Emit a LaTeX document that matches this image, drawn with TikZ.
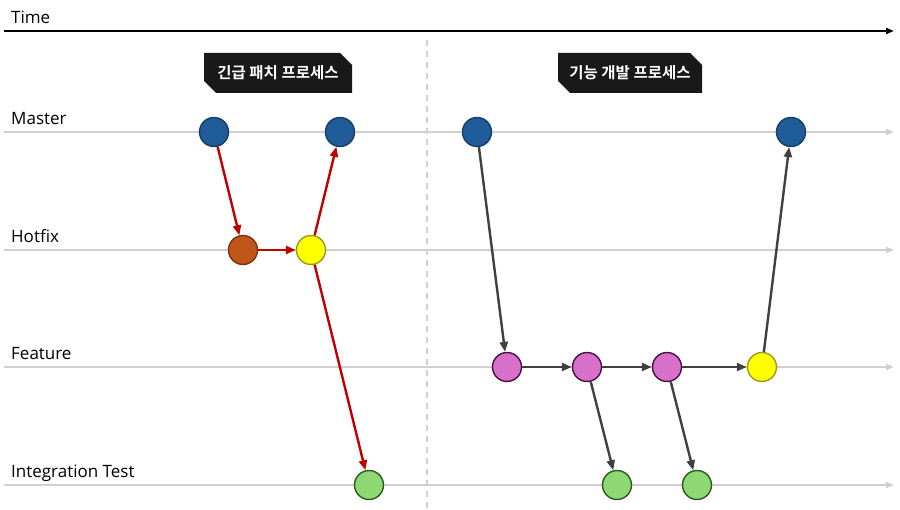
\documentclass[tikz,border=0pt]{standalone}
\usepackage{fontspec}
\setmainfont{Open Sans}
\newfontfamily\krfont{Noto Sans CJK KR Bold}
\usetikzlibrary{arrows.meta,shapes.misc}
\definecolor{laneg}{HTML}{D0D0D0}
\definecolor{redc}{HTML}{C00000}
\definecolor{grayc}{HTML}{404040}
\definecolor{blueF}{HTML}{1F5C99}
\definecolor{blueD}{HTML}{173F66}
\definecolor{orgF}{HTML}{C0561A}
\definecolor{orgD}{HTML}{7A3510}
\definecolor{yelF}{HTML}{FFFF00}
\definecolor{yelD}{HTML}{9A9A20}
\definecolor{magF}{HTML}{D86FC8}
\definecolor{magD}{HTML}{4A1040}
\definecolor{grnF}{HTML}{8DD873}
\definecolor{grnD}{HTML}{2A5A1F}
\tikzset{
  commit/.style={circle, minimum size=29pt, inner sep=0pt, line width=1.4pt},
  cblue/.style={commit, fill=blueF, draw=blueD},
  corg/.style={commit, fill=orgF, draw=orgD},
  cyel/.style={commit, fill=yelF, draw=yelD},
  cmag/.style={commit, fill=magF, draw=magD},
  cgrn/.style={commit, fill=grnF, draw=grnD},
  lane/.style={draw=laneg, line width=2pt, -{Triangle[length=8pt,width=6pt]}},
  lanelabel/.style={anchor=base west, inner sep=0pt, font=\fontsize{17}{20}\selectfont},
  redarr/.style={draw=redc, line width=2.4pt, -{Triangle[length=10pt,width=8pt]}},
  grayarr/.style={draw=grayc, line width=2.4pt, -{Triangle[length=10pt,width=8pt]}},
  header/.style={chamfered rectangle, chamfered rectangle corners={north east, south west},
    chamfered rectangle xsep=6pt, chamfered rectangle ysep=6pt, fill=black!90, text=white,
    minimum height=40pt, inner sep=0pt, font=\krfont\fontsize{15.5}{18}\selectfont}
}
\begin{document}
\begin{tikzpicture}[x=1pt,y=-1pt]
\useasboundingbox (0,0) rectangle (900,510);
% time axis
\node[lanelabel] (tlab) at (11,24) {Time};
\coordinate (t0) at (4,31);
\coordinate (t1) at (894,31);
\draw[line width=2pt, -{Triangle[length=8pt,width=6pt]}] (t0) -- (t1);
% separator
\coordinate (s0) at (427,40);
\coordinate (s1) at (427,509);
\draw[draw=laneg, line width=1.5pt, dash pattern=on 6pt off 5pt] (s0) -- (s1);
% lanes
\foreach \n/\y/\t in {m/132/Master, h/250/Hotfix, f/367/Feature, i/485/Integration Test}{
  \coordinate (\n0) at (4,\y);
  \coordinate (\n1) at (894,\y);
  \draw[lane] (\n0) -- (\n1);
  \node[lanelabel] (\n lab) at (11,\y-7) {\t};
}
% headers
\node[header, minimum width=148pt] (h1) at (278,73) {긴급 패치 프로세스};
\node[header, minimum width=144pt] (h2) at (630,73) {기능 개발 프로세스};
% commits
\node[cblue] (m1) at (214,132) {};
\node[cblue] (m2) at (340,132) {};
\node[cblue] (m3) at (477,132) {};
\node[cblue] (m4) at (791,132) {};
\node[corg] (h1c) at (243,250) {};
\node[cyel] (h2c) at (311,250) {};
\node[cmag] (f1) at (507,367) {};
\node[cmag] (f2) at (587,367) {};
\node[cmag] (f3) at (667,367) {};
\node[cyel] (f4) at (762,367) {};
\node[cgrn] (i1) at (369,485) {};
\node[cgrn] (i2) at (617,485) {};
\node[cgrn] (i3) at (697,485) {};
% red edges
\draw[redarr] (m1) -- (h1c);
\draw[redarr] (h1c) -- (h2c);
\draw[redarr] (h2c) -- (m2);
\draw[redarr] (h2c) -- (i1);
% gray edges
\draw[grayarr] (m3) -- (f1);
\draw[grayarr] (f1) -- (f2);
\draw[grayarr] (f2) -- (f3);
\draw[grayarr] (f3) -- (f4);
\draw[grayarr] (f2) -- (i2);
\draw[grayarr] (f3) -- (i3);
\draw[grayarr] (f4) -- (m4);
\end{tikzpicture}
\end{document}
